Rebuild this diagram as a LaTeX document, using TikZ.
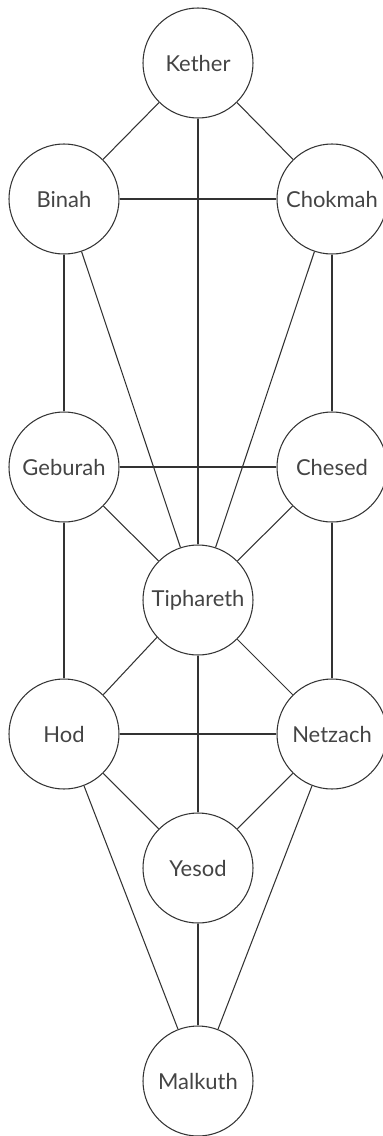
\documentclass[tikz,border=0pt]{standalone}
\usepackage{fontspec}
\setmainfont{Lato}
\usepackage{xcolor}
\definecolor{inkgray}{HTML}{333333}
\definecolor{textgray}{HTML}{444444}

\tikzset{
    sephira/.style={circle, draw=inkgray, line width=0.6pt, minimum size=2.2cm,
                    inner sep=0pt, text=textgray, font=\fontsize{12.5}{15}\selectfont},
    path/.style={draw=inkgray, line width=0.6pt}
}

\begin{document}
\begin{tikzpicture}
                \useasboundingbox (0, 0) rectangle (7.66, -22.72);

                \node[sephira] (kether)    at (3.96, -1.26)  {Kether};
                \node[sephira] (binah)     at (1.28, -3.98)  {Binah};
                \node[sephira] (chokmah)   at (6.64, -3.98)  {Chokmah};
                \node[sephira] (geburah)   at (1.28, -9.34)  {Geburah};
                \node[sephira] (chesed)    at (6.64, -9.34)  {Chesed};
                \node[sephira] (tiphareth) at (3.96, -12.00) {Tiphareth};
                \node[sephira] (hod)       at (1.28, -14.68) {Hod};
                \node[sephira] (netzach)   at (6.64, -14.68) {Netzach};
                \node[sephira] (yesod)     at (3.96, -17.36) {Yesod};
                \node[sephira] (malkuth)   at (3.96, -21.62) {Malkuth};

                \foreach \a/\b in {kether/binah, kether/chokmah, kether/tiphareth,
                                   binah/chokmah, binah/geburah, binah/tiphareth,
                                   chokmah/chesed, chokmah/tiphareth,
                                   geburah/chesed, geburah/tiphareth, chesed/tiphareth,
                                   geburah/hod, chesed/netzach,
                                   tiphareth/hod, tiphareth/netzach, tiphareth/yesod,
                                   hod/netzach, hod/yesod, netzach/yesod,
                                   hod/malkuth, netzach/malkuth, yesod/malkuth}
                    \draw[path] (\a) -- (\b);
            \end{tikzpicture}
\end{document}
